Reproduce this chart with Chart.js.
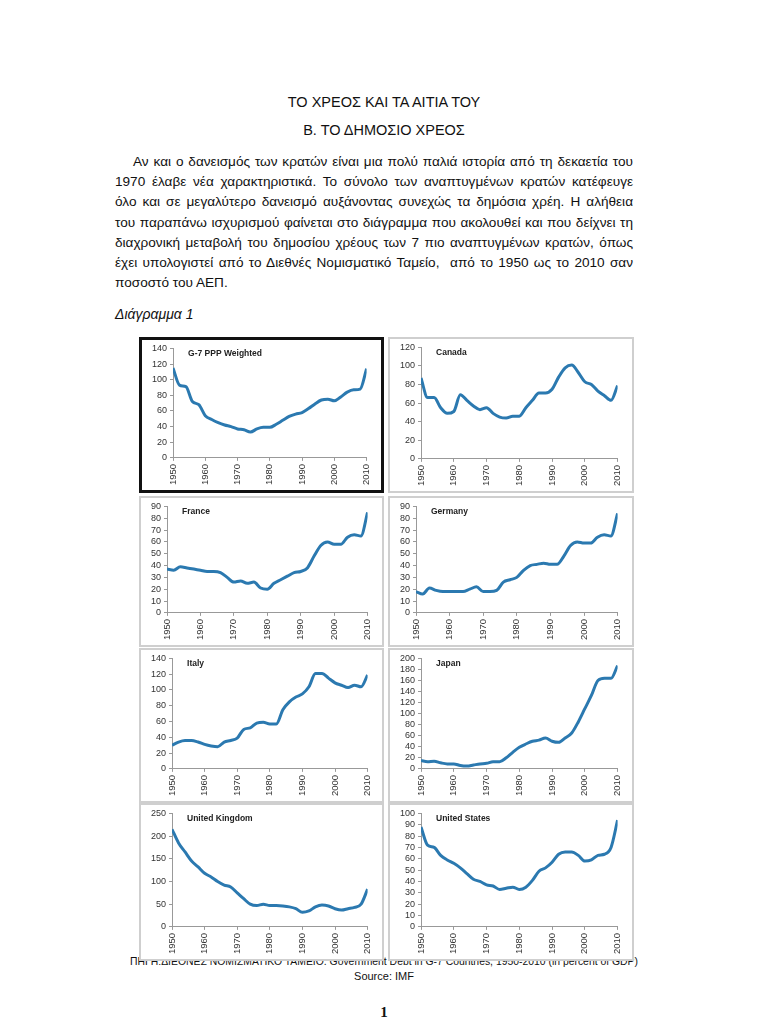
<!DOCTYPE html>
<html>
<head>
<meta charset="utf-8">
<script src="https://cdn.jsdelivr.net/npm/chart.js@4.4.1/dist/chart.umd.min.js"></script>
<style>
  body { margin: 0; width: 768px; height: 1024px; background: #fff; position: relative; overflow: hidden;
         font-family: "Liberation Sans", Arial, sans-serif; color: #111; }
  .t { position: absolute; left: 0; width: 768px; text-align: center; }
  #para { position: absolute; left: 115px; top: 152px; width: 518px; font-size: 13.6px; line-height: 20.2px; }
  #para div { text-align: justify; text-align-last: justify; white-space: normal; }
  #para div.last { text-align-last: left; }
  .panel { position: absolute; box-sizing: border-box; background: #fff; border: 2px solid #cfcfcf; z-index: 2; }
  .panel.main { border: 3px solid #111; }
  .panel canvas { position: absolute; left: 0; top: 0; }
</style>
</head>
<body>
<div class="t" style="top:94px;font-size:14.5px;">ΤΟ ΧΡΕΟΣ ΚΑΙ ΤΑ ΑΙΤΙΑ ΤΟΥ</div>
<div class="t" style="top:122px;font-size:14.5px;">Β. ΤΟ ΔΗΜΟΣΙΟ ΧΡΕΟΣ</div>
<div id="para">
  <div style="padding-left:18px;">Αν και ο δανεισμός των κρατών είναι μια πολύ παλιά ιστορία από τη δεκαετία του</div>
  <div>1970 έλαβε νέα χαρακτηριστικά. Το σύνολο των αναπτυγμένων κρατών κατέφευγε</div>
  <div>όλο και σε μεγαλύτερο δανεισμό αυξάνοντας συνεχώς τα δημόσια χρέη. Η αλήθεια</div>
  <div>του παραπάνω ισχυρισμού φαίνεται στο διάγραμμα που ακολουθεί και που δείχνει τη</div>
  <div>διαχρονική μεταβολή του δημοσίου χρέους των 7 πιο αναπτυγμένων κρατών, όπως</div>
  <div>έχει υπολογιστεί από το Διεθνές Νομισματικό Ταμείο,&nbsp; από το 1950 ως το 2010 σαν</div>
  <div class="last">ποσοστό του ΑΕΠ.</div>
</div>
<div style="position:absolute;left:115px;top:306px;font-size:14px;font-style:italic;">Διάγραμμα 1</div>

<div class="panel main" style="left:139px;top:337px;width:245px;height:156px;"><canvas id="c0"></canvas></div>
<div class="panel" style="left:388px;top:337px;width:246px;height:156px;"><canvas id="c1"></canvas></div>
<div class="panel" style="left:139px;top:496px;width:245px;height:151px;"><canvas id="c2"></canvas></div>
<div class="panel" style="left:388px;top:496px;width:246px;height:151px;"><canvas id="c3"></canvas></div>
<div class="panel" style="left:139px;top:648px;width:245px;height:155px;"><canvas id="c4"></canvas></div>
<div class="panel" style="left:388px;top:648px;width:246px;height:155px;"><canvas id="c5"></canvas></div>
<div class="panel" style="left:139px;top:803px;width:245px;height:158px;"><canvas id="c6"></canvas></div>
<div class="panel" style="left:388px;top:803px;width:246px;height:158px;"><canvas id="c7"></canvas></div>

<div class="t" style="top:956px;font-size:10.4px;z-index:1;">ΠΗΓΗ:ΔΙΕΘΝΕΣ ΝΟΜΙΣΜΑΤΙΚΟ ΤΑΜΕΙΟ. Government Debt in G-7 Countries, 1950-2010 (in percent of GDP)</div>
<div class="t" style="top:970px;font-size:11px;">Source: IMF</div>
<div class="t" style="top:1004px;font-size:15px;font-weight:bold;font-family:'Liberation Serif','DejaVu Serif',serif;">1</div>

<script>
// years every two years, 1950-2010
const years = [1950,1952,1954,1956,1958,1960,1962,1964,1966,1968,1970,1972,1974,1976,1978,1980,
               1982,1984,1986,1988,1990,1992,1994,1996,1998,2000,2002,2004,2006,2008,2010];

// government debt, percent of GDP
const g7      = [115,93,91,72,68,54,49,45,42,40,37,36,33,37,39,39,43,48,53,56,58,63,69,74,75,73,78,84,87,88,114];
const canada  = [87,66,66,55,49,51,69,63,57,53,55,49,45,44,46,46,55,63,71,71,75,88,98,101,93,83,80,73,68,63,79];
const france  = [37,36,39,38,37,36,35,35,34,30,26,27,25,26,21,20,25,28,31,34,35,38,48,57,60,58,58,64,66,65,85];
const germany = [18,16,21,19,18,18,18,18,20,22,18,18,19,26,28,30,36,40,41,42,41,41,48,57,60,59,59,64,66,65,84];
const italy   = [30,34,36,36,34,31,29,28,34,36,39,50,52,58,59,57,57,75,85,91,95,104,121,121,115,109,106,103,106,104,119];
const japan   = [15,13,14,11,9,9,6,5,7,9,10,13,13,20,30,39,45,50,52,56,50,48,56,65,85,109,133,160,164,164,187];
const uk      = [215,185,165,145,132,118,110,100,92,88,75,62,50,47,50,47,47,46,44,40,32,35,44,48,46,40,37,40,43,50,83];
const us      = [88,72,70,63,59,56,52,47,42,40,37,36,33,34,35,33,35,41,49,52,57,64,66,66,63,58,59,63,64,70,94];

const titles = ['G-7 PPP Weighted','Canada','France','Germany','Italy','Japan','United Kingdom','United States'];
const yMax   = [140,120,90,90,140,200,250,100];
const yStep  = [20,20,10,10,20,20,50,10];
const series = [g7,canada,france,germany,italy,japan,uk,us];

Chart.defaults.font.family = '"Liberation Sans", Arial, sans-serif';
Chart.defaults.font.size = 9;
Chart.defaults.color = '#333';

const panelTitle = {
    id: 'panelTitle',
    afterDraw(chart, args, opts) {
        const ctx = chart.ctx;
        ctx.save();
        ctx.font = 'bold 8.5px "Liberation Sans", Arial, sans-serif';
        ctx.fillStyle = '#222';
        ctx.textBaseline = 'top';
        ctx.fillText(opts.text, chart.chartArea.left + 15, chart.chartArea.top + 1);
        ctx.restore();
    }
};

for (let i = 0; i < 8; i++) {
    const ctx = document.getElementById('c' + i).getContext('2d');
    new Chart(ctx, {
        type: 'line',
        data: {
            datasets: [{
                data: years.map((y, k) => ({ x: y, y: series[i][k] })),
                borderColor: '#2b79b0',
                borderWidth: 3,
                pointRadius: 0,
                tension: 0.4,
                cubicInterpolationMode: 'monotone',
                fill: false
            }]
        },
        options: {
            responsive: true,
            maintainAspectRatio: false,
            animation: false,
            layout: { padding: { left: 7, right: 9, top: 5, bottom: 2 } },
            plugins: {
                legend: { display: false },
                tooltip: { enabled: false },
                panelTitle: { text: titles[i] }
            },
            scales: {
                x: {
                    type: 'linear',
                    min: 1950,
                    max: 2010,
                    ticks: { stepSize: 10, maxRotation: 90, minRotation: 90, padding: 3, autoSkip: false,
                             font: { size: 9.5 }, callback: v => String(v) },
                    grid: { drawOnChartArea: false, tickLength: 3, color: '#999' },
                    border: { color: '#999' }
                },
                y: {
                    min: 0,
                    max: yMax[i],
                    ticks: { stepSize: yStep[i], padding: 3, autoSkip: false },
                    grid: { drawOnChartArea: false, tickLength: 3, color: '#999' },
                    border: { color: '#999' }
                }
            }
        },
        plugins: [panelTitle]
    });
}
</script>
</body>
</html>
